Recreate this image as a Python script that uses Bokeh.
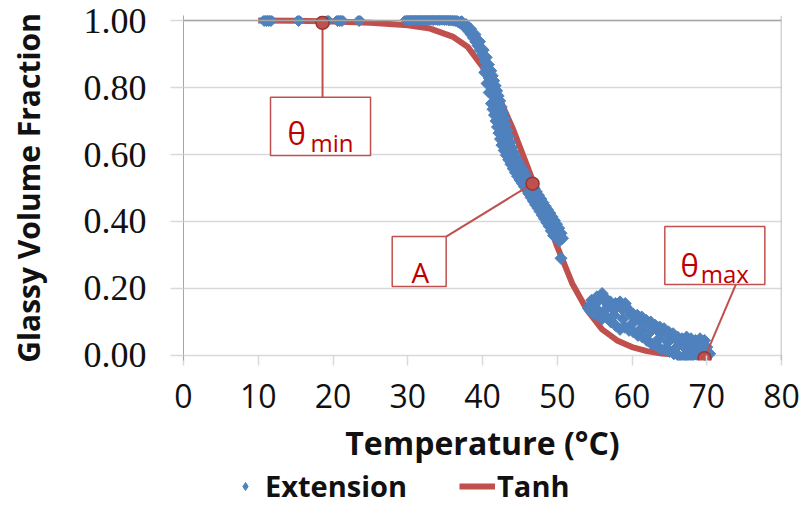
from bokeh.plotting import figure
from bokeh.layouts import column
from bokeh.models import (Range1d, BoxAnnotation, Label, Span, Legend, LegendItem,
                          FixedTicker, NumeralTickFormatter)
from bokeh.embed import file_html
from bokeh.resources import INLINE

# ---------------- data ----------------
ext_temp = [10.8, 11.1, 11.4, 11.7, 15.4, 19.3, 20.6, 20.9, 21.2, 23.5,
            # flat plateau
            29.8, 30.1, 30.4, 30.7, 31.0, 31.3, 31.6, 31.9, 32.2, 32.5, 32.8, 33.1,
            33.4, 33.7, 34.0, 34.3, 34.6, 34.9, 35.2, 35.5, 35.8, 36.1, 36.4,
            # transition, centre row
            36.7, 37.0, 37.3, 37.6, 37.9, 38.2, 38.5, 38.8, 39.1, 39.4, 39.7, 40.0,
            40.3, 40.5, 40.7, 40.9, 41.1, 41.3, 41.5, 41.7, 41.9, 42.1, 42.3, 42.5,
            42.7, 42.9, 43.1, 43.3, 43.6, 43.9, 44.2, 44.5, 44.8, 45.1, 45.4, 45.7,
            46.0, 46.3, 46.6, 46.9, 47.2, 47.5, 47.8, 48.1, 48.4, 48.7, 49.0, 49.3,
            49.6, 49.9, 50.1, 50.3, 50.5,
            # transition, left row
            40.3, 40.6, 40.9, 41.2, 41.4, 41.6, 41.8, 42.0, 42.2, 42.4, 42.6, 42.9,
            43.2, 43.5, 43.8, 44.1, 44.4, 44.7, 45.0, 45.3, 45.6, 45.9, 46.2, 46.5,
            46.8, 47.1, 47.4, 47.7, 48.0, 48.3, 48.6, 48.9, 49.2, 49.5,
            # transition, right row
            37.2, 37.8, 38.4, 39.0, 39.6, 40.1, 40.5, 40.8, 41.1, 41.3, 41.5, 41.7,
            41.9, 42.1, 42.3, 42.5, 42.7, 42.9, 43.1, 43.3, 43.5, 43.7, 43.9, 44.2,
            44.5, 44.8, 45.1, 45.4, 45.7, 46.0, 46.3, 46.6, 46.9, 47.2, 47.5, 47.8,
            48.1, 48.4, 48.7, 49.0, 49.3, 49.6, 49.9, 50.2, 50.5, 50.7,
            # tail
            54.4, 55.0, 55.6, 56.2, 56.8, 57.4, 58.0, 58.6, 59.2, 59.8, 60.4, 61.0,
            61.6, 62.2, 62.8, 63.4, 64.0, 64.6, 65.2, 65.8, 66.4, 67.0, 67.6, 68.2,
            68.8, 69.4, 70.0,
            54.2, 54.8, 55.4, 56.0, 56.6, 57.2, 57.8, 58.4, 59.0, 59.6, 60.2, 60.8,
            61.4, 62.0, 62.6, 63.2, 63.8, 64.4, 65.0, 65.6, 66.2, 66.8, 67.4, 68.0,
            68.6, 69.2, 69.8, 70.4,
            55.2, 56.4, 57.6, 58.8, 60.0, 61.2, 62.4, 63.6, 64.8, 66.0, 67.2, 68.4,
            69.6,
            54.6, 55.3, 56.0, 56.5, 57.1, 57.8, 58.4, 59.1, 59.5, 60.1, 60.7, 61.3,
            61.9, 62.5, 63.1, 63.7, 64.3, 64.9, 65.5, 66.1, 66.7, 67.3, 67.9, 68.5,
            69.1, 69.7]
ext_frac = [1.0, 1.0, 1.0, 1.0, 1.0, 1.0, 1.0, 1.0, 1.0, 1.0,
            1.002, 1.003, 1.003, 1.004, 1.003, 1.004, 1.003, 1.004, 1.003, 1.004,
            1.003, 1.004, 1.003, 1.004, 1.003, 1.003, 1.004, 1.003, 1.003, 1.002,
            1.002, 1.001, 1.000,
            0.997, 0.993, 0.988, 0.982, 0.975, 0.967, 0.958, 0.948, 0.937, 0.925,
            0.912, 0.897, 0.878, 0.862, 0.845, 0.828, 0.812, 0.800, 0.785, 0.770,
            0.752, 0.735, 0.718, 0.700, 0.682, 0.664, 0.646, 0.628, 0.612, 0.598,
            0.584, 0.571, 0.558, 0.546, 0.535, 0.524, 0.514, 0.504, 0.494, 0.483,
            0.472, 0.461, 0.450, 0.440, 0.430, 0.419, 0.408, 0.397, 0.386, 0.372,
            0.358, 0.342, 0.290,
            0.845, 0.812, 0.785, 0.752, 0.735, 0.718, 0.700, 0.682, 0.664, 0.646,
            0.628, 0.612, 0.598, 0.584, 0.571, 0.558, 0.546, 0.535, 0.524, 0.514,
            0.504, 0.494, 0.483, 0.472, 0.461, 0.450, 0.440, 0.430, 0.419, 0.408,
            0.397, 0.386, 0.372, 0.358,
            0.997, 0.988, 0.975, 0.958, 0.937, 0.912, 0.890, 0.868, 0.850, 0.835,
            0.820, 0.805, 0.790, 0.775, 0.760, 0.742, 0.725, 0.708, 0.690, 0.672,
            0.654, 0.636, 0.620, 0.605, 0.591, 0.578, 0.565, 0.552, 0.540, 0.529,
            0.519, 0.509, 0.499, 0.489, 0.478, 0.467, 0.456, 0.445, 0.435, 0.425,
            0.414, 0.403, 0.392, 0.380, 0.365, 0.350,
            0.150, 0.155, 0.165, 0.168, 0.150, 0.140, 0.145, 0.140, 0.145, 0.125,
            0.110, 0.105, 0.100, 0.095, 0.085, 0.075, 0.072, 0.065, 0.060, 0.050,
            0.045, 0.040, 0.043, 0.035, 0.040, 0.038, 0.025,
            0.140, 0.125, 0.120, 0.110, 0.115, 0.100, 0.090, 0.078, 0.085, 0.075,
            0.070, 0.060, 0.055, 0.045, 0.035, 0.030, 0.020, 0.018, 0.012, 0.005,
            0.000, -0.005, 0.000, -0.003, 0.003, 0.005, 0.000, 0.005,
            0.140, 0.135, 0.120, 0.110, 0.095, 0.080, 0.070, 0.050, 0.040, 0.025,
            0.020, 0.015, 0.020,
            0.165, 0.175, 0.185, 0.170, 0.160, 0.155, 0.160, 0.155, 0.135, 0.125,
            0.120, 0.115, 0.105, 0.100, 0.090, 0.085, 0.080, 0.070, 0.065, 0.055,
            0.050, 0.055, 0.050, 0.045, 0.050, 0.045]

tanh_temp = [10, 15, 20, 25, 30, 33, 36, 38, 40, 42, 44, 46, 47, 48, 50, 52, 54,
             56, 58, 60, 62, 64, 66, 68, 70]
tanh_frac = [1.000, 0.999, 0.997, 0.993, 0.986, 0.976, 0.952, 0.922, 0.862,
             0.780, 0.680, 0.565, 0.505, 0.445, 0.325, 0.215, 0.135, 0.078,
             0.045, 0.025, 0.013, 0.006, 0.003, 0.001, 0.000]

key_temp = [18.6, 46.7, 69.7]
key_frac = [0.993, 0.513, -0.008]

x_ticks = [0, 10, 20, 30, 40, 50, 60, 70, 80]
y_ticks = [0.0, 0.2, 0.4, 0.6, 0.8, 1.0]

BLUE = "#4F81BD"
RED = "#C0504D"
TXT_RED = "#C00000"
SANS = "Open Sans"
SERIF = "Times New Roman"

MAIN_H = 466
LEG_H = 505 - MAIN_H

p = figure(width=804, height=MAIN_H, output_backend="svg", toolbar_location=None,
           x_range=Range1d(0, 80), y_range=Range1d(-0.015, 1.015),
           min_border_left=183, min_border_right=23, min_border_top=15,
           min_border_bottom=MAIN_H - 360)
p.outline_line_color = None
p.background_fill_color = "white"
p.border_fill_color = "white"

# grid
p.xgrid.visible = False
p.ygrid.ticker = FixedTicker(ticks=y_ticks)
p.ygrid.grid_line_color = "#D9D9D9"
p.ygrid.grid_line_width = 1.5

# y axis
p.yaxis.ticker = FixedTicker(ticks=y_ticks)
p.yaxis.formatter = NumeralTickFormatter(format="0.00")
p.yaxis.axis_line_color = "#A6A6A6"
p.yaxis.major_tick_out = 13
p.yaxis.major_tick_in = 0
p.yaxis.major_tick_line_color = "#D9D9D9"
p.yaxis.major_tick_line_width = 1.5
p.yaxis.minor_tick_line_color = None
p.yaxis.major_label_text_font = SERIF
p.yaxis.major_label_text_font_size = "36px"
p.yaxis.major_label_text_color = "#111111"
p.yaxis.major_label_standoff = 24
p.yaxis.axis_label = "Glassy Volume Fraction"
p.yaxis.axis_label_text_font = SANS
p.yaxis.axis_label_text_font_style = "bold"
p.yaxis.axis_label_text_font_size = "30px"
p.yaxis.axis_label_text_color = "#111111"
p.yaxis.axis_label_standoff = 32

# x axis
p.xaxis.ticker = FixedTicker(ticks=x_ticks)
p.xaxis.axis_line_color = None
p.xaxis.major_tick_in = 5
p.xaxis.major_tick_out = 5
p.xaxis.major_tick_line_color = "#D9D9D9"
p.xaxis.major_tick_line_width = 1.5
p.xaxis.minor_tick_line_color = None
p.xaxis.major_label_text_font = SANS
p.xaxis.major_label_text_font_size = "32px"
p.xaxis.major_label_text_color = "#111111"
p.xaxis.major_label_standoff = 18
p.xaxis.axis_label = "Temperature (°C)"
p.xaxis.axis_label_text_font = SANS
p.xaxis.axis_label_text_font_style = "bold"
p.xaxis.axis_label_text_font_size = "32px"
p.xaxis.axis_label_text_color = "#111111"
p.xaxis.axis_label_standoff = 10

# frame border (top/right)
p.add_layout(Span(location=80, dimension="height", line_color="#A6A6A6", line_width=1.5))
p.add_layout(Span(location=1.0, dimension="width", line_color="#A6A6A6", line_width=1.5))

# series
p.line(tanh_temp, tanh_frac, line_width=6, color=RED)
p.scatter(ext_temp, ext_frac, marker="square", size=8.5, angle=0.7854, color=BLUE)

# callout leader lines
p.segment(x0=[key_temp[0], key_temp[1], key_temp[2]],
          y0=[key_frac[0], key_frac[1], key_frac[2]],
          x1=[key_temp[0], 35.14, 73.9],
          y1=[0.771, 0.355, 0.212], line_color=RED, line_width=2)
p.scatter(key_temp, key_frac, marker="circle", size=13, fill_color=RED,
          line_color="#943634", line_width=1.5)

# callout boxes
for l, r, t, b in [(11.64, 25.02, 0.771, 0.597), (27.92, 35.14, 0.355, 0.206),
                   (64.39, 77.77, 0.385, 0.212)]:
    p.add_layout(BoxAnnotation(left=l, right=r, top=t, bottom=b, fill_color="white",
                               fill_alpha=1.0, line_color=RED, line_alpha=1.0,
                               line_width=1.5))

# callout texts
for x, y, txt, size, align in [(13.91, 0.663, "θ", "31px", "left"),
                               (17.0, 0.637, "min", "24px", "left"),
                               (31.7, 0.249, "A", "28px", "center"),
                               (66.49, 0.271, "θ", "31px", "left"),
                               (69.2, 0.246, "max", "24px", "left")]:
    p.add_layout(Label(x=x, y=y, text=txt, text_font=SANS, text_font_size=size,
                       text_color=TXT_RED, text_align=align,
                       text_baseline="alphabetic"))

# ---------------- legend strip below the chart ----------------
lf = figure(width=804, height=LEG_H, output_backend="svg", toolbar_location=None,
            x_range=Range1d(100, 200), y_range=Range1d(100, 200),
            x_axis_location=None, y_axis_location=None, min_border=0)
lf.grid.visible = False
lf.outline_line_color = None
lf.border_fill_color = "white"
lf_ext = lf.scatter(ext_temp, ext_frac, marker="diamond", size=13, color=BLUE)
lf_tanh = lf.line(tanh_temp, tanh_frac, line_width=6, color=RED)

legend = Legend(items=[LegendItem(label="Extension", renderers=[lf_ext]),
                       LegendItem(label="Tanh", renderers=[lf_tanh])],
                orientation="horizontal", location=(44, 0))
legend.label_text_font = SANS
legend.label_text_font_style = "bold"
legend.label_text_font_size = "29px"
legend.label_text_color = "#111111"
legend.glyph_width = 36
legend.glyph_height = 20
legend.label_standoff = 2
legend.spacing = 52
legend.padding = 0
legend.margin = 0
legend.border_line_color = None
legend.background_fill_alpha = 0
lf.add_layout(legend)

open("out.html", "w").write(file_html(column(p, lf), INLINE))
